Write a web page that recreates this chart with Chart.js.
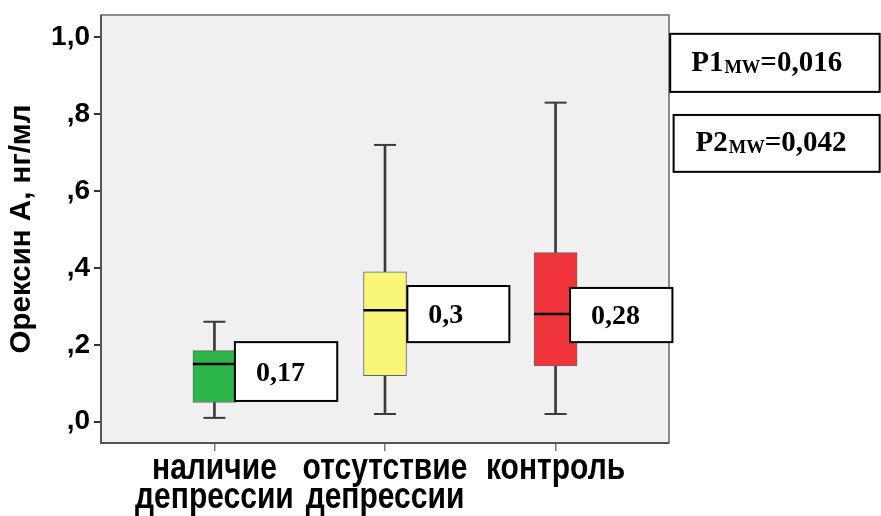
<!DOCTYPE html>
<html>
<head>
<meta charset="utf-8">
<script src="https://cdn.jsdelivr.net/npm/chart.js@4"></script>
<style>
  html, body { margin: 0; padding: 0; background: #ffffff; }
  #wrap { width: 881px; height: 516px; }
</style>
</head>
<body>
<div id="wrap"><canvas id="chart" width="881" height="516"></canvas></div>
<script>
// Группы сравнения (подписи оси X)
const categories = [['наличие', 'депрессии'], ['отсутствие', 'депрессии'], ['контроль']];

// Статистики распределения орексина А, нг/мл
const whiskerLow  = [0.01, 0.02, 0.02];
const quartile1   = [0.05, 0.12, 0.145];
const medians     = [0.15, 0.29, 0.28];
const quartile3   = [0.185, 0.39, 0.44];
const whiskerHigh = [0.26, 0.72, 0.83];

// Подписи значений рядом с ящиками
const valueLabels = ['0,17', '0,3', '0,28'];

// Уровни значимости (критерий Манна–Уитни)
const pLabels = [
  { main: 'P1', sub: 'MW', tail: '=0,016' },
  { main: 'P2', sub: 'MW', tail: '=0,042' }
];

// Деления оси Y
const yTickValues = [0, 0.2, 0.4, 0.6, 0.8, 1.0];
const yTickLabels = [',0', ',2', ',4', ',6', ',8', '1,0'];

const boxColors = ['#2db74a', '#f9f679', '#f1343c'];

// Расположение рамок с подписями (в единицах осей)
const valueBoxLayout = [
  { x0: 0.120, x1: 0.720, yTop: 0.207, yBot: 0.054 },
  { x0: 1.131, x1: 1.729, yTop: 0.353, yBot: 0.207 },
  { x0: 2.085, x1: 2.685, yTop: 0.348, yBot: 0.207 }
];
const pBoxLayout = [
  { x0: 2.672, x1: 3.90, yTop: 1.009, yBot: 0.858 },
  { x0: 2.692, x1: 3.90, yTop: 0.798, yBot: 0.650 }
];

const idx = categories.map((_, i) => i);

const plotFrame = {
  id: 'plotFrame',
  beforeDraw(chart) {
    const { ctx, chartArea: a } = chart;
    ctx.save();
    ctx.fillStyle = '#f0f0f0';
    ctx.fillRect(a.left, a.top, a.right - a.left, a.bottom - a.top);
    ctx.restore();
  },
  afterDatasetsDraw(chart) {
    const { ctx, chartArea: a } = chart;
    ctx.save();
    ctx.lineWidth = 2;
    ctx.strokeStyle = '#8c8c8c';
    ctx.beginPath();
    ctx.moveTo(a.left, a.top);
    ctx.lineTo(a.right, a.top);
    ctx.lineTo(a.right, a.bottom);
    ctx.stroke();
    ctx.strokeStyle = '#555555';
    ctx.beginPath();
    ctx.moveTo(a.left, a.top);
    ctx.lineTo(a.left, a.bottom);
    ctx.lineTo(a.right, a.bottom);
    ctx.stroke();
    ctx.restore();
  }
};

// Подписи категорий оси X рисуются вытянутыми по вертикали
const tallCategoryLabels = {
  id: 'tallCategoryLabels',
  afterLayout(chart) {
    const xs = chart.scales.x;
    if (xs._tallWrapped) return;
    const original = xs.drawLabels.bind(xs);
    xs.drawLabels = function (area) {
      const ctx = this.ctx;
      const y0 = this.top;
      ctx.save();
      ctx.translate(0, y0);
      ctx.scale(1, 1.2);
      ctx.translate(0, -y0);
      original(area);
      ctx.restore();
    };
    xs._tallWrapped = true;
  }
};

const labelBoxes = {
  id: 'labelBoxes',
  afterDraw(chart) {
    const { ctx } = chart;
    const xs = chart.scales.x, ys = chart.scales.y;
    const box = (L) => {
      const x0 = xs.getPixelForValue(L.x0), x1 = xs.getPixelForValue(L.x1);
      const y0 = ys.getPixelForValue(L.yTop), y1 = ys.getPixelForValue(L.yBot);
      ctx.fillStyle = '#ffffff';
      ctx.fillRect(x0, y0, x1 - x0, y1 - y0);
      ctx.lineWidth = 2;
      ctx.strokeStyle = '#000000';
      ctx.strokeRect(x0, y0, x1 - x0, y1 - y0);
      return { x0, y0, x1, y1 };
    };
    ctx.save();
    valueLabels.forEach((t, i) => {
      const r = box(valueBoxLayout[i]);
      ctx.fillStyle = '#000000';
      ctx.font = 'bold 28px "Liberation Serif"';
      ctx.textBaseline = 'alphabetic';
      ctx.textAlign = 'left';
      ctx.fillText(t, r.x0 + 21, (r.y0 + r.y1) / 2 + 9);
    });
    pLabels.forEach((p, i) => {
      const r = box(pBoxLayout[i]);
      const base = (r.y0 + r.y1) / 2 + 8;
      let x = r.x0 + 21 + i;
      ctx.fillStyle = '#000000';
      ctx.textAlign = 'left';
      ctx.textBaseline = 'alphabetic';
      ctx.font = 'bold 29px "Liberation Serif"';
      ctx.fillText(p.main, x, base);
      x += ctx.measureText(p.main).width + 1;
      ctx.font = 'bold 18.5px "Liberation Serif"';
      ctx.fillText(p.sub, x, base + 2);
      x += ctx.measureText(p.sub).width;
      ctx.font = 'bold 29px "Liberation Serif"';
      ctx.fillText(p.tail, x, base);
    });
    ctx.restore();
  }
};

new Chart(document.getElementById('chart'), {
  type: 'bar',
  data: {
    datasets: [
      {
        // усы
        type: 'bar',
        data: idx.map(i => ({ x: i, y: [whiskerLow[i], whiskerHigh[i]] })),
        backgroundColor: '#3a3a3a',
        borderWidth: 0,
        barThickness: 2,
        grouped: false,
        order: 3
      },
      {
        // ящики (межквартильный размах)
        type: 'bar',
        data: idx.map(i => ({ x: i, y: [quartile1[i], quartile3[i]] })),
        backgroundColor: boxColors,
        borderColor: '#666666',
        borderWidth: 1,
        borderSkipped: false,
        barThickness: 43,
        grouped: false,
        order: 2
      },
      {
        // поперечины усов
        type: 'scatter',
        data: idx.flatMap(i => [{ x: i, y: whiskerLow[i] }, { x: i, y: whiskerHigh[i] }]),
        pointStyle: 'line',
        radius: 11,
        borderColor: '#3a3a3a',
        borderWidth: 2,
        order: 1
      },
      {
        // медианы
        type: 'scatter',
        data: idx.map(i => ({ x: i, y: medians[i] })),
        pointStyle: 'line',
        radius: 21.5,
        borderColor: '#000000',
        borderWidth: 2.5,
        order: 0
      }
    ]
  },
  options: {
    responsive: false,
    devicePixelRatio: 1,
    animation: false,
    events: [],
    layout: { autoPadding: false, padding: { top: 15, right: 212, left: 0, bottom: 0 } },
    plugins: { legend: { display: false }, tooltip: { enabled: false } },
    scales: {
      x: {
        type: 'linear',
        offset: false,
        min: -0.665,
        max: 2.665,
        afterBuildTicks: (axis) => { axis.ticks = idx.map(v => ({ value: v })); },
        afterFit: (axis) => { axis.height = 73; axis.paddingLeft = 0; axis.paddingRight = 0; },
        ticks: {
          callback: (v) => categories[v],
          color: '#000000',
          padding: 2,
          maxRotation: 0,
          autoSkip: false,
          font: { family: '"Liberation Sans"', size: 30, weight: 'bold', lineHeight: 0.79 }
        },
        grid: { offset: false, drawOnChartArea: false, drawTicks: true, tickLength: 8, color: '#777777', lineWidth: 1.5 },
        border: { display: false }
      },
      y: {
        type: 'linear',
        min: -0.0554,
        max: 1.058,
        afterBuildTicks: (axis) => { axis.ticks = yTickValues.map(v => ({ value: v })); },
        afterFit: (axis) => { axis.width = 101; axis.paddingTop = 0; axis.paddingBottom = 0; },
        ticks: {
          callback: (v, i) => yTickLabels[i],
          color: '#000000',
          padding: 4,
          font: { family: '"Liberation Sans"', size: 28, weight: 'bold' }
        },
        grid: { drawOnChartArea: false, drawTicks: true, tickLength: 7, color: '#333333', lineWidth: 2 },
        border: { display: false },
        title: {
          display: true,
          text: 'Орексин А, нг/мл',
          color: '#000000',
          padding: { top: 4, bottom: 0 },
          font: { family: '"Liberation Sans"', size: 29.5, weight: 'bold', lineHeight: 1.2 }
        }
      }
    }
  },
  plugins: [plotFrame, tallCategoryLabels, labelBoxes]
});
</script>
</body>
</html>
